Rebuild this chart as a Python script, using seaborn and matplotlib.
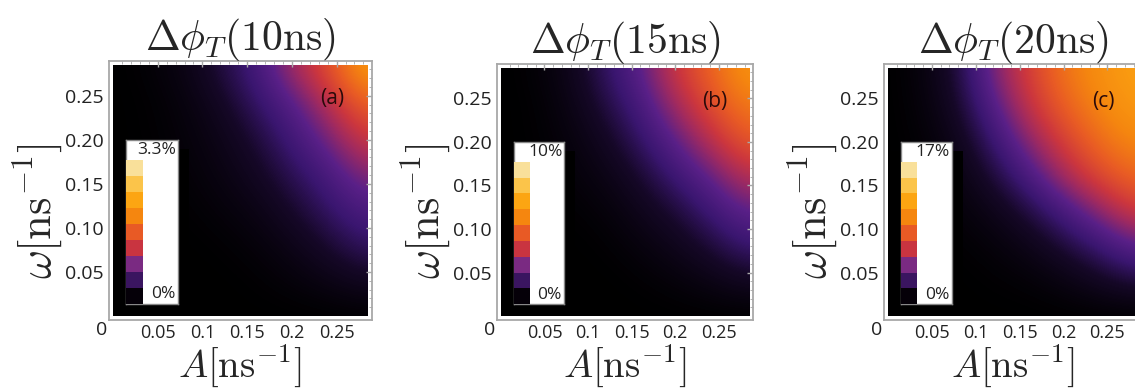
import numpy as np
import matplotlib
matplotlib.use('Agg')
import matplotlib.pyplot as plt
import seaborn as sns
from matplotlib.colors import LinearSegmentedColormap, ListedColormap
from matplotlib.patches import Rectangle

# grid of the parameter scan (in %)
A_vals = [0.0, 0.04, 0.08, 0.12, 0.16, 0.20, 0.24, 0.28]
w_vals = [0.0, 0.04, 0.08, 0.12, 0.16, 0.20, 0.24, 0.28]

# rows: omega from 0 to 0.28, columns: A from 0 to 0.28
phase_10ns = [
    [0, 0, 0, 0, 0, 0, 0, 0.01],
    [0, 0, 0, 0, 0.03, 0.10, 0.20, 0.33],
    [0, 0, 0, 0.03, 0.10, 0.23, 0.43, 0.66],
    [0, 0, 0.03, 0.10, 0.20, 0.40, 0.66, 0.92],
    [0, 0, 0.07, 0.17, 0.33, 0.59, 0.86, 1.25],
    [0, 0.03, 0.10, 0.23, 0.46, 0.79, 1.16, 1.65],
    [0, 0.03, 0.13, 0.33, 0.66, 0.99, 1.49, 2.02],
    [0, 0.07, 0.20, 0.50, 0.83, 1.39, 1.86, 2.5],
]
phase_15ns = [
    [0, 0, 0, 0, 0, 0, 0, 0],
    [0, 0, 0, 0, 0.1, 0.3, 0.6, 1.0],
    [0, 0, 0, 0.1, 0.4, 0.8, 1.4, 2.2],
    [0, 0, 0.1, 0.3, 0.8, 1.4, 2.3, 3.3],
    [0, 0, 0.3, 0.6, 1.3, 2.3, 3.3, 4.6],
    [0, 0.1, 0.4, 1.0, 2.0, 3.2, 4.6, 5.9],
    [0, 0.1, 0.6, 1.5, 2.6, 4.2, 5.6, 6.7],
    [0, 0.2, 0.8, 2.0, 3.2, 5.0, 6.2, 7.4],
]
phase_20ns = [
    [0, 0, 0, 0, 0, 0, 0, 0],
    [0, 0, 0, 0.17, 0.34, 0.85, 1.7, 2.55],
    [0, 0, 0.17, 0.51, 1.19, 2.38, 3.74, 5.44],
    [0, 0.17, 0.51, 1.19, 2.55, 4.42, 6.6, 8.7],
    [0, 0.17, 0.85, 2.4, 4.6, 7.3, 9.4, 10.7],
    [0, 0.34, 1.36, 3.7, 6.6, 9.0, 10.9, 12.0],
    [0, 0.51, 2.04, 5.1, 8.2, 10.4, 11.9, 12.9],
    [0, 0.68, 2.55, 6.3, 9.0, 11.2, 12.4, 13.3],
]

grids = [phase_10ns, phase_15ns, phase_20ns]
times = ['10', '15', '20']
scale_max = [3.3, 10, 17]
scale_labels = ['3.3%', '10%', '17%']
panel_tags = ['(a)', '(b)', '(c)']

xtick_vals = [0.05, 0.1, 0.15, 0.2, 0.25]
xtick_labels = ['0.05', '0.1', '0.15', '0.2', '0.25']
ytick_vals = [0.05, 0.10, 0.15, 0.20, 0.25]
ytick_labels = ['0.05', '0.10', '0.15', '0.20', '0.25']

legend_colors = ['#050008', '#3a1560', '#7a2a82', '#c93440', '#e85a25',
                 '#f5860f', '#fca512', '#fbc44a', '#f9e09a']
sunset = LinearSegmentedColormap.from_list('sunset', [
    (0.0, '#000000'), (0.12, '#160828'), (0.22, '#3a1670'), (0.32, '#5a2088'),
    (0.42, '#a02a60'), (0.5, '#cc363e'), (0.6, '#e85a25'), (0.7, '#f5860f'),
    (0.8, '#fca512'), (0.9, '#fbc44a'), (1.0, '#f9e09a')])

sns.set_style('white')
plt.rcParams['font.family'] = ['Open Sans', 'DejaVu Sans']
plt.rcParams['mathtext.fontset'] = 'cm'

fig = plt.figure(figsize=(11.35, 3.91), dpi=100)
positions = [[0.0960, 0.1816, 0.2317, 0.6624],
             [0.4379, 0.1816, 0.2256, 0.6547],
             [0.7789, 0.1816, 0.2273, 0.6547]]

top = 0.285
step = A_vals[1] - A_vals[0]
for i in range(3):
    ax = fig.add_axes(positions[i])
    im = ax.imshow(np.array(grids[i]), origin='lower', cmap=sunset,
                   vmin=0, vmax=scale_max[i], interpolation='bicubic',
                   extent=[A_vals[0] - step / 2, A_vals[-1] + step / 2,
                           w_vals[0] - step / 2, w_vals[-1] + step / 2],
                   aspect='auto')
    im.set_clip_path(Rectangle((0, 0), top, top, transform=ax.transData))
    ax.set_xlim(-0.0045, 0.2895)
    ax.set_ylim(-0.0045, 0.2895)

    ax.set_xticks(xtick_vals)
    ax.set_xticklabels(xtick_labels)
    ax.set_yticks(ytick_vals)
    ax.set_yticklabels(ytick_labels)
    ax.set_xticks(np.arange(0.01, 0.285, 0.01), minor=True)
    ax.set_yticks(np.arange(0.01, 0.285, 0.01), minor=True)
    ax.tick_params(which='both', direction='in', top=True, right=True,
                   color='#a8a8a8', labelsize=14, labelcolor='#222222')
    ax.tick_params(which='major', length=4, width=1)
    ax.tick_params(which='minor', length=2, width=0.6)
    ax.tick_params(axis='x', pad=3, labelsize=13)
    ax.tick_params(axis='y', pad=4)
    for sp in ax.spines.values():
        sp.set_color('#a8a8a8')
        sp.set_linewidth(1.3)
    ax.text(-0.0125, -0.016, '0', fontsize=14, color='#222222',
            ha='center', va='center', clip_on=False)

    ax.set_title(r'$\Delta\phi_T(' + times[i] + r'\mathrm{ns})$',
                 fontsize=30, pad=8)
    ax.text(0.245, 0.247, panel_tags[i], fontsize=15, color='#2a0a0a',
            ha='center', va='center')

    # black legend panel behind the colour key
    ax.add_patch(Rectangle((0, 0), 0.0855, 0.19, facecolor='black',
                           edgecolor='none', zorder=3))
    box = ax.inset_axes([0.0145, 0.0135, 0.058, 0.1865], transform=ax.transData)
    box.set_facecolor('white')
    box.set_xticks([])
    box.set_yticks([])
    for sp in box.spines.values():
        sp.set_color('#888888')
        sp.set_linewidth(1)
    box.text(0.97, 0.985, scale_labels[i], transform=box.transAxes,
             fontsize=12.5, ha='right', va='top', color='#222222')
    box.text(0.95, 0.01, '0%', transform=box.transAxes,
             fontsize=12.5, ha='right', va='bottom', color='#222222')

    strip = ax.inset_axes([0.0145, 0.0135, 0.019, 0.1637], transform=ax.transData)
    levels = np.arange(len(legend_colors))[::-1].reshape(-1, 1)
    sns.heatmap(levels, ax=strip, cmap=ListedColormap(legend_colors),
                vmin=-0.5, vmax=len(legend_colors) - 0.5, cbar=False,
                xticklabels=False, yticklabels=False)

    cx = positions[i][0] + positions[i][2] / 2
    fig.text(cx, 0.003, r'$A[\mathrm{ns}^{-1}]$', fontsize=28,
             ha='center', va='bottom')
    fig.text(positions[i][0] - 0.063, 0.46, r'$\omega[\mathrm{ns}^{-1}]$',
             fontsize=32, rotation=90, ha='center', va='center')

fig.savefig('out.png', dpi=100)
